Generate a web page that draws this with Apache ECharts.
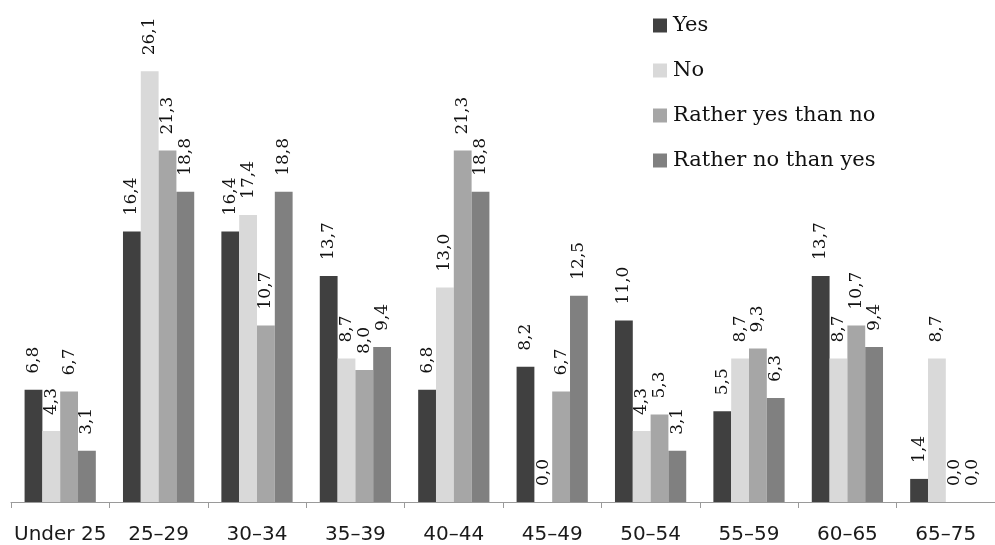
<!DOCTYPE html>
<html>
<head>
<meta charset="utf-8">
<script src="https://cdn.jsdelivr.net/npm/echarts@6/dist/echarts.min.js"></script>
<style>html,body{margin:0;padding:0;background:#fff}#c{width:995px;height:545px}</style>
</head>
<body>
<div id="c"></div>
<script>
const categories = ['Under 25','25–29','30–34','35–39','40–44','45–49','50–54','55–59','60–65','65–75'];
const seriesNames = ['Yes','No','Rather yes than no','Rather no than yes'];
const yesValues = [6.8,16.4,16.4,13.7,6.8,8.2,11.0,5.5,13.7,1.4];
const noValues = [4.3,26.1,17.4,8.7,13.0,0.0,4.3,8.7,8.7,8.7];
const ratherYesValues = [6.7,21.3,10.7,8.0,21.3,6.7,5.3,9.3,10.7,0.0];
const ratherNoValues = [3.1,18.8,18.8,9.4,18.8,12.5,3.1,6.3,9.4,0.0];
const colors = ['#404040','#d9d9d9','#a6a6a6','#808080'];

const chart = echarts.init(document.getElementById('c'), null, {renderer:'canvas'});
const allValues = [yesValues, noValues, ratherYesValues, ratherNoValues];
const series = allValues.map((vals, i) => ({
  name: seriesNames[i],
  type: 'bar',
  data: vals,
  barGap: '0%',
  barCategoryGap: '27.6%',
  itemStyle: {color: colors[i]},
  label: {
    show: true,
    position: 'top',
    rotate: 90,
    align: 'left',
    verticalAlign: 'middle',
    distance: 16,
    fontFamily: '"DejaVu Serif", serif',
    fontSize: 17,
    color: '#111',
    formatter: p => p.value.toFixed(1).replace('.', ',')
  }
}));

chart.setOption({
  animation: false,
  color: colors,
  textStyle: {fontFamily: '"DejaVu Serif", serif'},
  grid: {left: 11, width: 995, top: 7, bottom: 43, containLabel: false},
  legend: {
    orient: 'vertical',
    left: 648,
    top: 10,
    itemWidth: 14,
    itemHeight: 14,
    itemGap: 24,
    icon: 'rect',
    textStyle: {fontFamily: '"DejaVu Serif", serif', fontSize: 21, color: '#111', lineHeight: 21, padding: [0,0,0,1]},
    data: seriesNames
  },
  xAxis: {
    type: 'category',
    data: categories,
    axisLine: {lineStyle: {color: '#9a9a9a', width: 1}},
    axisTick: {show: true, length: 6, alignWithLabel: false, lineStyle: {color: '#9a9a9a'}},
    axisLabel: {fontFamily: '"DejaVu Sans", sans-serif', fontSize: 20, color: '#1a1a1a', margin: 23, interval: 0}
  },
  yAxis: {
    type: 'value',
    min: 0,
    max: 30,
    show: false,
    splitLine: {show: false}
  },
  series: series
});
</script>
</body>
</html>
